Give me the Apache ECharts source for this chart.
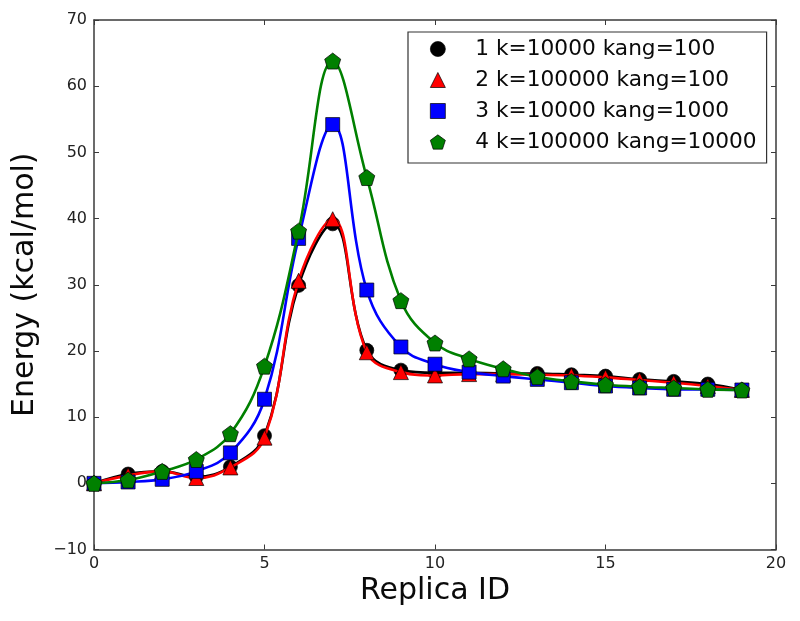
<!DOCTYPE html>
<html>
<head>
<meta charset="utf-8">
<script src="https://cdn.jsdelivr.net/npm/echarts@6/dist/echarts.min.js"></script>
<style>
html,body{margin:0;padding:0;background:#fff;}
#chart{width:800px;height:621px;}
</style>
</head>
<body>
<div id="chart"></div>
<script>
var replicaIds = [0,1,2,3,4,5,6,7,8,9,10,11,12,13,14,15,16,17,18,19];
var seriesNames = ['1 k=10000 kang=100','2 k=100000 kang=100','3 k=10000 kang=1000','4 k=100000 kang=10000'];
var s1 = [0, 1.4, 1.8, 1.0, 2.5, 7.2, 29.9, 39.2, 20.1, 17.1, 16.7, 16.7, 16.6, 16.6, 16.4, 16.2, 15.7, 15.4, 15.0, 14.1];
var s2 = [0, 1.2, 1.8, 0.8, 2.4, 6.9, 30.6, 39.9, 19.8, 16.8, 16.3, 16.5, 16.5, 16.4, 16.3, 16.0, 15.6, 15.2, 14.7, 14.1];
var s3 = [0, 0.2, 0.6, 1.8, 4.6, 12.7, 37.0, 54.2, 29.2, 20.6, 18.0, 16.8, 16.2, 15.7, 15.2, 14.7, 14.4, 14.2, 14.2, 14.1];
var s4 = [0, 0.5, 1.8, 3.6, 7.5, 17.7, 38.1, 63.8, 46.2, 27.6, 21.2, 18.8, 17.3, 16.1, 15.4, 14.9, 14.6, 14.4, 14.2, 14.1];
var xTicks = [0,5,10,15,20];
var yTicks = [-10,0,10,20,30,40,50,60,70];

var colors = ['#000000','#ff0000','#0000ff','#008000'];
var pentagon = 'path://M0,-1 L0.951,-0.309 L0.588,0.809 L-0.588,0.809 L-0.951,-0.309 Z';
var symbols = ['circle','triangle','rect',pentagon];
var symbolSizes = [14,15,14,16];
var allValues = [s1,s2,s3,s4];

var font = 'DejaVu Sans';
var axisCol = '#3a3a3a';

function mkSeries(i){
  return {
    name: seriesNames[i],
    type: 'line',
    smooth: 0.4,
    data: replicaIds.map(function(x,k){ return [x, allValues[i][k]]; }),
    symbol: symbols[i],
    symbolSize: symbolSizes[i],
    showAllSymbol: true,
    lineStyle: {color: colors[i], width: 2.6},
    itemStyle: {color: colors[i], borderColor: '#000', borderWidth: 0.7, opacity: 1},
    z: 2 + i,
    animation: false
  };
}

var baseAxis = {
  axisLine: {show: true, onZero: false, lineStyle: {color: axisCol, width: 1.5}},
  axisTick: {show: true, inside: true, length: 5, lineStyle: {color: axisCol, width: 1}},
  splitLine: {show: false}
};

var chart = echarts.init(document.getElementById('chart'), null, {renderer: 'canvas'});
chart.setOption({
  animation: false,
  backgroundColor: '#ffffff',
  grid: {left: 94, right: 24, top: 20, bottom: 71.5, containLabel: false},
  legend: {
    orient: 'vertical',
    left: 408,
    top: 32,
    data: seriesNames.map(function(n,i){ return {name: n, icon: symbols[i]}; }),
    itemWidth: 15,
    itemHeight: 15,
    itemGap: 9,
    padding: [6, 10, 10, 22],
    borderColor: '#333',
    borderWidth: 1.2,
    backgroundColor: '#fff',
    borderRadius: 0,
    textStyle: {fontFamily: font, fontSize: 21.7, color: '#0a0a0a', lineHeight: 22, padding: [0,0,0,25]},
    itemStyle: {borderColor: '#000', borderWidth: 0.7},
    selectedMode: false
  },
  xAxis: [
    Object.assign({}, baseAxis, {
      type: 'value', min: 0, max: 20, interval: 5, position: 'bottom',
      name: 'Replica ID', nameLocation: 'middle', nameGap: 26,
      nameTextStyle: {fontFamily: font, fontSize: 30, color: '#0a0a0a'},
      axisLabel: {fontFamily: font, fontSize: 16, color: '#222', margin: 6,
        formatter: function(v){ return xTicks.indexOf(v) >= 0 ? String(v) : ''; }}
    }),
    Object.assign({}, baseAxis, {
      type: 'value', min: 0, max: 20, interval: 5, position: 'top',
      axisLabel: {show: false}
    })
  ],
  yAxis: [
    Object.assign({}, baseAxis, {
      type: 'value', min: -10, max: 70, interval: 10, position: 'left',
      name: 'Energy (kcal/mol)', nameLocation: 'middle', nameGap: 54,
      nameTextStyle: {fontFamily: font, fontSize: 30, color: '#0a0a0a'},
      axisLabel: {fontFamily: font, fontSize: 16, color: '#222', margin: 7,
        formatter: function(v){ return yTicks.indexOf(v) >= 0 ? String(v).replace('-', '\u2212') : ''; }}
    }),
    Object.assign({}, baseAxis, {
      type: 'value', min: -10, max: 70, interval: 10, position: 'right',
      axisLabel: {show: false}
    })
  ],
  series: [mkSeries(0), mkSeries(1), mkSeries(2), mkSeries(3)]
});
</script>
</body>
</html>
